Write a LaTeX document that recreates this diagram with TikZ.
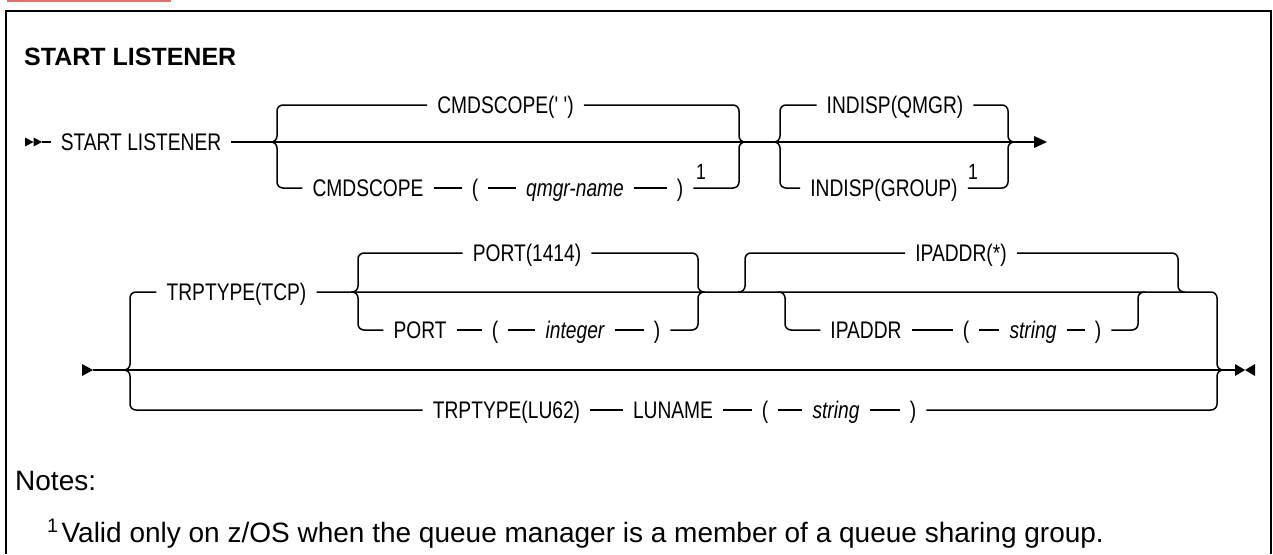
\documentclass[tikz,border=0pt]{standalone}
\usepackage{fontspec}
\setmainfont{Liberation Sans}
\newfontfamily\rrfont{Liberation Sans}[FakeStretch=0.8, Ligatures=TeXOff]
\newfontfamily\notefont{Liberation Sans}
\usetikzlibrary{positioning}
\definecolor{tabred}{RGB}{228,110,106}

\begin{document}
\begin{tikzpicture}[x=1pt, y=-1pt,
  track/.style={line width=1.5pt, rounded corners=6pt},
  kw/.style={inner xsep=10pt, inner ysep=0pt, text height=17.2pt, text depth=0pt,
    font=\rrfont\fontsize{24}{28}\selectfont},
  var/.style={kw, font=\rrfont\itshape\fontsize{24}{28}\selectfont},
  fn/.style={inner sep=0pt, font=\rrfont\fontsize{22}{26}\selectfont}]
  \useasboundingbox (0,0) rectangle (1273,554);
  % frame and tab
  \fill[tabred] (7,0) rectangle (171,1.6);
  \draw[line width=2pt] (6,554) -- (6,10.5) -- (1271,10.5) -- (1271,554);
  \node[anchor=base west, inner sep=0pt, font=\bfseries\fontsize{25}{30}\selectfont] (title) at (24,65) {START LISTENER};

  % first row
  \fill (25,137.5) -- (33.5,142) -- (25,146.5) -- cycle;
  \fill (33.5,137.5) -- (42,142) -- (33.5,146.5) -- cycle;
  \coordinate (r1s) at (42,142);
  \coordinate (r1end) at (1036,142);
  \node[kw] (startTxt) at (141,142) {START LISTENER};
  \draw[track] (r1s) -- (startTxt.west);
  \draw[track] (startTxt.east) -- (r1end);
  \fill (1034,136) -- (1047,142) -- (1034,148) -- cycle;

  % CMDSCOPE
  \coordinate (g1l) at (270,142);
  \coordinate (g1r) at (746,142);
  \node[kw] (scopeDef) at (505.5,105) {CMDSCOPE(' ')};
  \node[kw] (scopeKw) at (368,188) {CMDSCOPE};
  \node[kw] (lpA) at (475,188) {(};
  \node[var] (qmgr) at (575,188) {qmgr-name};
  \node[kw] (rpA) at (680,188) {)};
  \node[fn] (fnA) at (701,172) {1};
  \draw[track] (g1l) -- (277,142) -- (277,105) -- (scopeDef.west);
  \draw[track] (scopeDef.east) -- (739,105) -- (739,142) -- (g1r);
  \draw[track] (g1l) -- (277,142) -- (277,188) -- (scopeKw.west);
  \foreach \a/\b in {scopeKw/lpA, lpA/qmgr, qmgr/rpA}
    \draw[track] (\a.east) -- (\b.west);
  \draw[track] (rpA.east) -- (739,188) -- (739,142) -- (g1r);

  % INDISP
  \coordinate (g2l) at (768,142);
  \coordinate (g2r) at (1015,142);
  \node[kw] (indQ) at (895,105) {INDISP(QMGR)};
  \node[kw] (indG) at (884,188) {INDISP(GROUP)};
  \node[fn] (fnB) at (973,172) {1};
  \draw[track] (g2l) -- (780,142) -- (780,105) -- (indQ.west);
  \draw[track] (indQ.east) -- (1008,105) -- (1008,142) -- (g2r);
  \draw[track] (g2l) -- (780,142) -- (780,188) -- (indG.west);
  \draw[track] (indG.east) -- (1008,188) -- (1008,142) -- (g2r);

  % second row
  \fill (82,364) -- (93,370) -- (82,376) -- cycle;
  \coordinate (r2s) at (93,370);
  \coordinate (r2end) at (1235,370);
  \draw[track] (r2s) -- (r2end);
  \fill (1235,364) -- (1245,370) -- (1235,376) -- cycle;
  \fill (1255,364) -- (1245,370) -- (1255,376) -- cycle;

  % TRPTYPE
  \coordinate (g3l) at (123,370);
  \coordinate (g3r) at (1225,370);
  \node[kw] (tcp) at (236.5,292) {TRPTYPE(TCP)};
  \node[kw] (lu62) at (506.5,410) {TRPTYPE(LU62)};
  \node[kw] (luname) at (673,410) {LUNAME};
  \node[kw] (lpD) at (765,410) {(};
  \node[var] (strB) at (836,410) {string};
  \node[kw] (rpD) at (913,410) {)};
  \draw[track] (g3l) -- (130,370) -- (130,292) -- (tcp.west);
  \draw[track] (tcp.east) -- (1217,292) -- (1217,370) -- (g3r);
  \draw[track] (g3l) -- (130,370) -- (130,410) -- (lu62.west);
  \foreach \a/\b in {lu62/luname, luname/lpD, lpD/strB, strB/rpD}
    \draw[track] (\a.east) -- (\b.west);
  \draw[track] (rpD.east) -- (1217,410) -- (1217,370) -- (g3r);

  % PORT
  \coordinate (g4l) at (351,292);
  \coordinate (g4r) at (705,292);
  \node[kw] (port) at (527,253) {PORT(1414)};
  \node[kw] (portKw) at (420,330) {PORT};
  \node[kw] (lpB) at (495,330) {(};
  \node[var] (intg) at (575,330) {integer};
  \node[kw] (rpB) at (657,330) {)};
  \draw[track] (g4l) -- (358,292) -- (358,253) -- (port.west);
  \draw[track] (port.east) -- (698,253) -- (698,292) -- (g4r);
  \draw[track] (g4l) -- (358,292) -- (358,330) -- (portKw.west);
  \foreach \a/\b in {portKw/lpB, lpB/intg, intg/rpB}
    \draw[track] (\a.east) -- (\b.west);
  \draw[track] (rpB.east) -- (698,330) -- (698,292) -- (g4r);

  % IPADDR
  \coordinate (g5l) at (738,292);
  \coordinate (g5r) at (1185,292);
  \coordinate (g6l) at (778,292);
  \coordinate (g6r) at (1146,292);
  \node[kw] (ipStar) at (961,253) {IPADDR(*)};
  \node[kw] (ipKw) at (866,330) {IPADDR};
  \node[kw] (lpC) at (966,330) {(};
  \node[var] (strA) at (1033,330) {string};
  \node[kw] (rpC) at (1098,330) {)};
  \draw[track] (g5l) -- (745,292) -- (745,253) -- (ipStar.west);
  \draw[track] (ipStar.east) -- (1178,253) -- (1178,292) -- (g5r);
  \draw[track] (g6l) -- (785,292) -- (785,330) -- (ipKw.west);
  \foreach \a/\b in {ipKw/lpC, lpC/strA, strA/rpC}
    \draw[track] (\a.east) -- (\b.west);
  \draw[track] (rpC.east) -- (1138,330) -- (1138,292) -- (g6r);

  % notes
  \node[anchor=base west, inner sep=0pt, font=\notefont\fontsize{28}{32}\selectfont] (notes) at (15,490) {Notes:};
  \node[anchor=base west, inner sep=0pt, font=\notefont\fontsize{28}{32}\selectfont] (noteA) at (47,542)
    {\textsuperscript{1}\hspace{3pt}Valid only on z/OS when the queue manager is a member of a queue sharing group.};
\end{tikzpicture}
\end{document}
